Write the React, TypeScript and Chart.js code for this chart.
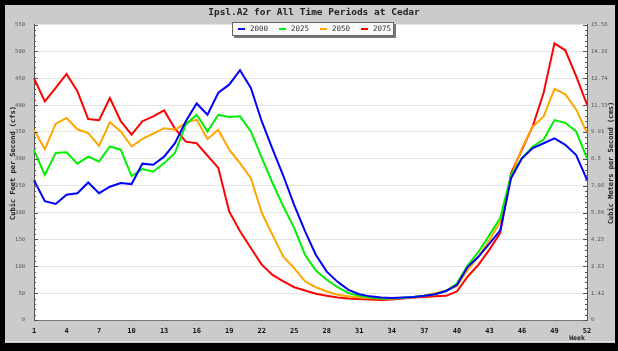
import React, { useEffect, useRef } from "react";
import { Chart, registerables } from "chart.js";

Chart.register(...registerables);

const weeks = Array.from({ length: 52 }, (_, i) => String(i + 1));
const xTickWeeks = ["1","4","7","10","13","16","19","22","25","28","31","34","37","40","43","46","49","52"];
const cfsTicks = [0, 50, 100, 150, 200, 250, 300, 350, 400, 450, 500, 550];
const cmsTickLabels = ["0","1.42","2.83","4.25","5.66","7.08","8.5","9.91","11.33","12.74","14.16","15.58"];

const s2000 = [260,221,216,233,236,256,236,248,255,253,291,289,304,329,370,403,382,423,438,465,432,370,318,268,214,165,121,90,71,56,48,44,42,41,42,43,45,48,54,65,99,118,142,167,264,301,320,329,338,326,307,261];
const s2025 = [316,270,311,312,291,304,295,323,317,268,281,276,292,311,364,382,351,382,378,379,351,302,255,211,171,121,92,75,61,50,45,42,40,40,41,43,45,48,54,68,102,127,158,190,270,301,323,336,372,367,351,301];
const s2050 = [354,318,365,376,355,348,324,368,351,323,337,347,357,354,367,373,337,354,317,292,264,200,158,118,96,72,61,53,47,44,42,41,40,40,41,43,45,50,55,63,93,118,149,183,267,320,360,379,430,420,392,348];
const s2075 = [450,407,432,458,426,374,372,413,370,345,370,379,390,356,332,329,306,283,202,165,134,103,84,72,61,55,49,45,42,40,39,38,37,38,40,42,43,44,45,53,81,103,131,162,273,317,361,423,515,502,454,401];

const seriesNames = ["2000", "2025", "2050", "2075"];
const seriesColors = ["#0000ff", "#00ee00", "#ffa500", "#ff0000"];

const titleText = "Ipsl.A2 for All Time Periods at Cedar";
const leftTitle = "Cubic Feet per Second (cfs)";
const rightTitle = "Cubic Meters per Second (cms)";
const xTitle = "Week";

const W = 618;
const H = 351;

const decorPlugin = {
  id: "decor",
  beforeDraw(chart: any) {
    const { ctx, chartArea } = chart;
    ctx.save();
    ctx.fillStyle = "#000";
    ctx.fillRect(0, 0, W, H);
    ctx.fillStyle = "#cbcbcb";
    ctx.fillRect(5, 5, 610, 338);
    ctx.fillStyle = "#e2e2e2";
    ctx.fillRect(5, 341, 610, 1);
    ctx.fillStyle = "#ffffff";
    ctx.fillRect(chartArea.left, chartArea.top, chartArea.right - chartArea.left, chartArea.bottom - chartArea.top);
    ctx.restore();
  },
  afterDraw(chart: any) {
    const { ctx, chartArea } = chart;
    const y = chart.scales.y;
    ctx.save();
    // minor ticks
    ctx.strokeStyle = "#555";
    ctx.lineWidth = 1;
    for (let v = 0; v <= 550; v += 10) {
      const py = Math.round(y.getPixelForValue(v)) + 0.5;
      const len = v % 50 === 0 ? 4 : 2;
      ctx.beginPath();
      ctx.moveTo(chartArea.left, py);
      ctx.lineTo(chartArea.left + len, py);
      ctx.moveTo(chartArea.right, py);
      ctx.lineTo(chartArea.right - len, py);
      ctx.stroke();
    }
    // title
    ctx.fillStyle = "#222";
    ctx.font = "bold 9.5px 'DejaVu Sans Mono'";
    ctx.textAlign = "center";
    ctx.textBaseline = "middle";
    ctx.fillText(titleText, 314, 13);
    // axis titles
    ctx.font = "bold 7px 'DejaVu Sans Mono'";
    ctx.fillStyle = "#222";
    ctx.save();
    ctx.translate(13, 163);
    ctx.rotate(-Math.PI / 2);
    ctx.fillText(leftTitle, 0, 0);
    ctx.restore();
    ctx.save();
    ctx.translate(611, 163);
    ctx.rotate(-Math.PI / 2);
    ctx.fillText(rightTitle, 0, 0);
    ctx.restore();
    ctx.font = "bold 6.5px 'DejaVu Sans Mono'";
    ctx.fillText(xTitle, 577, 338);
    // legend
    const lx = 232, ly = 22, lw = 162, lh = 14;
    ctx.fillStyle = "#777";
    ctx.fillRect(lx + 2, ly + 2, lw, lh);
    ctx.fillStyle = "#fafafa";
    ctx.fillRect(lx, ly, lw, lh);
    ctx.strokeStyle = "#666";
    ctx.strokeRect(lx + 0.5, ly + 0.5, lw - 1, lh - 1);
    ctx.font = "7.5px 'DejaVu Sans Mono'";
    ctx.textAlign = "left";
    chart.data.datasets.forEach((ds: any, i: number) => {
      const x0 = 238 + i * 41;
      ctx.strokeStyle = ds.borderColor;
      ctx.lineWidth = 2;
      ctx.beginPath();
      ctx.moveTo(x0, 29);
      ctx.lineTo(x0 + 7, 29);
      ctx.stroke();
      ctx.fillStyle = "#333";
      ctx.fillText(ds.label, x0 + 12, 29.5);
    });
    ctx.restore();
  },
};

export default function App() {
  const ref = useRef<HTMLCanvasElement | null>(null);
  useEffect(() => {
    if (!ref.current) return;
    const data = [s2000, s2025, s2050, s2075];
    const chart = new Chart(ref.current, {
      type: "line",
      data: {
        labels: weeks,
        datasets: data.map((d, i) => ({
          label: seriesNames[i],
          data: d,
          borderColor: seriesColors[i],
          backgroundColor: seriesColors[i],
          borderWidth: 2,
          pointRadius: 0,
          tension: 0,
          fill: false,
          yAxisID: "y",
        })),
      },
      options: {
        responsive: false,
        animation: false,
        devicePixelRatio: 1,
        layout: { padding: { top: 24.5, left: 0, right: 0, bottom: 0 } },
        plugins: { legend: { display: false }, title: { display: false }, tooltip: { enabled: false } },
        scales: {
          x: {
            type: "category",
            offset: false,
            grid: { color: "rgba(0,0,0,0)", drawTicks: false },
            border: { display: true, color: "#777", width: 1 },
            ticks: {
              autoSkip: false,
              maxRotation: 0,
              minRotation: 0,
              padding: 7,
              color: "#111",
              font: { family: "'DejaVu Sans Mono'", size: 7, weight: "bold" },
              callback: (_v: any, idx: number) => (xTickWeeks.includes(weeks[idx]) ? weeks[idx] : ""),
            },
            afterFit: (s: any) => { s.height = 31; },
          },
          y: {
            position: "left",
            min: 0,
            max: 550,
            afterBuildTicks: (s: any) => { s.ticks = cfsTicks.map((v) => ({ value: v })); },
            grid: { color: "#e4e4e4", drawTicks: false },
            border: { display: true, color: "#555", width: 1 },
            ticks: {
              padding: 9,
              color: "#555",
              font: { family: "'DejaVu Sans Mono'", size: 5.5 },
              callback: (v: any) => String(v),
            },
            afterFit: (s: any) => { s.width = 34; },
          },
          y2: {
            position: "right",
            min: 0,
            max: 550,
            afterBuildTicks: (s: any) => { s.ticks = cfsTicks.map((v) => ({ value: v })); },
            grid: { drawOnChartArea: false, drawTicks: false },
            border: { display: true, color: "#555", width: 1 },
            ticks: {
              padding: 4,
              color: "#555",
              font: { family: "'DejaVu Sans Mono'", size: 5.5 },
              callback: (v: any) => {
                const i = cfsTicks.indexOf(Number(v));
                return i >= 0 ? cmsTickLabels[i] : "";
              },
            },
            afterFit: (s: any) => { s.width = 31; },
          },
        },
      },
      plugins: [decorPlugin],
    });
    return () => chart.destroy();
  }, []);
  return (
    <div style={{ position: "fixed", left: 0, top: 0, width: W, height: H }}>
      <canvas ref={ref} width={W} height={H} style={{ display: "block", width: W, height: H }} />
    </div>
  );
}
